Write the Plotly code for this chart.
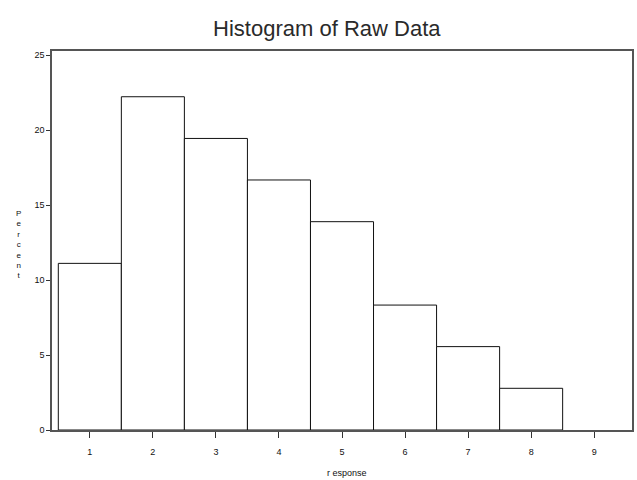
import plotly.graph_objects as go

# Percent of observations falling at each response value
responses = [1, 2, 3, 4, 5, 6, 7, 8, 9]
percents = [11.11, 22.22, 19.44, 16.67, 13.89, 8.33, 5.56, 2.78, 0.0]
y_ticks = [0, 5, 10, 15, 20, 25]

font_family = "Liberation Sans, Arial, sans-serif"

# empty bins get no outline so the baseline stays the axis colour
outline_widths = [1 if p > 0 else 0 for p in percents]

fig = go.Figure(
    go.Bar(
        x=responses,
        y=percents,
        width=1.0,
        marker=dict(color="white", line=dict(color="#111111", width=outline_widths)),
        hoverinfo="x+y",
    )
)

fig.update_layout(
    width=637,
    height=480,
    margin=dict(l=52, r=3, t=51, b=50),
    paper_bgcolor="white",
    plot_bgcolor="white",
    showlegend=False,
    title=dict(
        text="Histogram of Raw Data",
        x=0.513,
        xanchor="center",
        y=0.942,
        yanchor="middle",
        font=dict(family=font_family, size=22, color="#2a2a2a"),
    ),
    font=dict(family=font_family, size=9, color="#111111"),
)

fig.update_xaxes(
    range=[0.4, 9.6],
    tickvals=responses,
    ticks="outside",
    ticklen=6,
    tickcolor="#333333",
    ticklabelstandoff=6,
    showline=True,
    linecolor="#555555",
    linewidth=1.5,
    mirror=True,
    showgrid=False,
    zeroline=False,
    tickfont=dict(size=9),
)

fig.update_yaxes(
    range=[0, 25.27],
    tickvals=y_ticks,
    ticks="outside",
    ticklen=4,
    tickcolor="#333333",
    showline=True,
    linecolor="#555555",
    linewidth=1.5,
    mirror=True,
    showgrid=False,
    zeroline=False,
    tickfont=dict(size=9),
)

# Axis titles: the vertical label is stacked one letter per line
fig.add_annotation(
    text="<br>".join("Percent"),
    xref="paper", yref="paper",
    x=-0.057, y=0.49,
    xanchor="center", yanchor="middle",
    showarrow=False,
    font=dict(size=8),
)
fig.add_annotation(
    text="r esponse",
    xref="paper", yref="paper",
    x=0.508, y=-0.113,
    xanchor="center", yanchor="middle",
    showarrow=False,
    font=dict(size=9),
)

fig.write_html("out.html")
